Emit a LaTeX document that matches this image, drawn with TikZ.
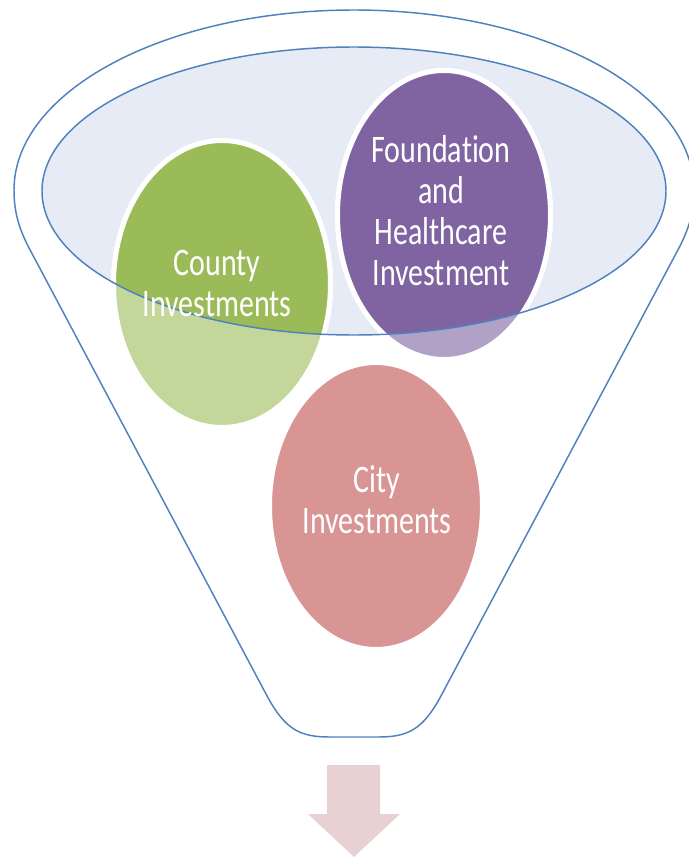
\documentclass[tikz,border=0pt]{standalone}
\usepackage{fontspec}
\setmainfont[Ligatures=NoCommon]{Carlito}
\usetikzlibrary{positioning}

\newcommand{\stretchlines}[1]{\scalebox{1}[1.3]{\fontsize{22.5}{23.7}\selectfont\begin{tabular}{@{}c@{}}#1\end{tabular}}}

\tikzset{every picture/.style={line width=0.75pt}}
\tikzset{
  funnelline/.style={draw={rgb, 255:red, 79; green, 129; blue, 189 }, line width=1.1pt},
  bubble/.style={draw=white, line width=3.75pt},
  bubbletext/.style={anchor=center, inner sep=0.75pt, text=white, align=center}
}

\begin{document}
\begin{tikzpicture}[x=0.75pt,y=0.75pt,yscale=-1,xscale=1]
%set diagram left start at 0, and has height of 857
\useasboundingbox (0,0) rectangle (689,857);

%Shape: Ellipse [id:dp2841] inner top of funnel
\fill [fill={rgb, 255:red, 230; green, 235; blue, 245 }] (354,191) ellipse (312 and 144);

%Shape: Ellipse [id:dp5170] county, pale part
\draw [bubble, fill={rgb, 255:red, 196; green, 215; blue, 155 }] (222,284) ellipse (108.5 and 143.5);
%Shape: Ellipse [id:dp6633] foundation, pale part
\draw [bubble, fill={rgb, 255:red, 178; green, 161; blue, 199 }] (444,215) ellipse (106.5 and 144.5);

\begin{scope}
\clip (354,191) ellipse (312 and 144);
%Shape: Ellipse [id:dp7391] county
\draw [bubble, fill={rgb, 255:red, 155; green, 187; blue, 89 }] (222,284) ellipse (108.5 and 143.5);
%Shape: Ellipse [id:dp1048] foundation
\draw [bubble, fill={rgb, 255:red, 128; green, 100; blue, 162 }] (444,215) ellipse (106.5 and 144.5);
\end{scope}

%Shape: Ellipse [id:dp9256] border of inner top
\draw [funnelline] (354,191) ellipse (312 and 144);

%Shape: Ellipse [id:dp3312] city
\draw [bubble, fill={rgb, 255:red, 217; green, 149; blue, 148 }] (376,506) ellipse (106.5 and 143.5);

%Shape: Funnel [id:dp4487]
\draw [funnelline] (14,190) .. controls (14,212) and (19,228) .. (28,246) -- (266,694) .. controls (285,730) and (300,737) .. (330,737) -- (378,737) .. controls (408,737) and (423,730) .. (442,694) -- (680,246) .. controls (689,228) and (694,212) .. (694,190) arc [start angle=0, end angle=-180, x radius=340, y radius=180] -- cycle ;

%Shape: Down Arrow [id:dp8120]
\fill [fill={rgb, 255:red, 232; green, 209; blue, 211 }] (327,765) -- (380,765) -- (380,814) -- (400,814) -- (354,857) -- (308,814) -- (327,814) -- cycle ;

% Text Node
\draw (217,288) node [bubbletext] (county) {\stretchlines{County\\Investments}};
% Text Node
\draw (441,216) node [bubbletext] (found) {\stretchlines{Foundation\\and\\Healthcare\\Investment}};
% Text Node
\draw (377,505) node [bubbletext] (city) {\stretchlines{City\\Investments}};
\end{tikzpicture}
\end{document}
